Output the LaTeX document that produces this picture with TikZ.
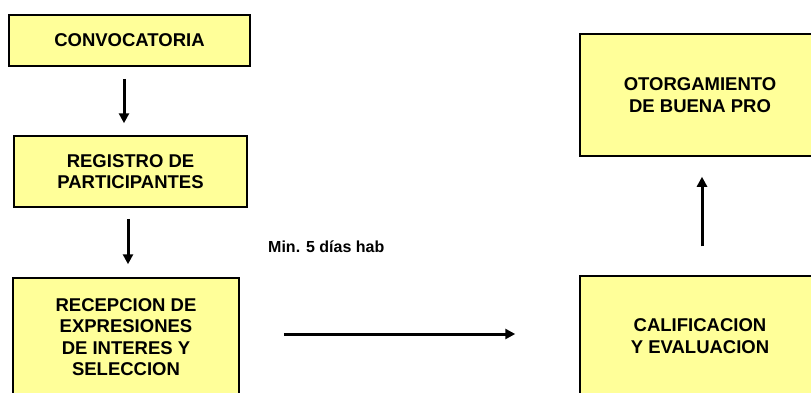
\documentclass[tikz,border=0pt]{standalone}
\usepackage{fontspec}
\setmainfont{Liberation Sans}
\usetikzlibrary{arrows.meta}
\definecolor{boxyellow}{RGB}{255,255,153}
\tikzset{
  stagebox/.style={draw=black, line width=1.5pt, fill=boxyellow, align=center,
    font=\fontsize{18.5}{21.5}\selectfont\bfseries, inner sep=0pt},
  arr/.style={line width=3pt, -{Triangle[length=10pt,width=10pt]}},
  lbl/.style={font=\fontsize{16}{18}\selectfont\bfseries, inner sep=0pt}
}
\begin{document}
\begin{tikzpicture}[x=1pt,y=1pt]
\useasboundingbox (0,0) rectangle (811,-392);
\node[stagebox, minimum width=241pt, minimum height=51pt] (conv) at (129.5,-40.5) {CONVOCATORIA};
\node[stagebox, minimum width=233pt, minimum height=71pt] (reg) at (130.5,-171.5) {REGISTRO DE\\PARTICIPANTES};
\node[stagebox, minimum width=226pt, minimum height=118pt] (rec) at (126,-337) {RECEPCION DE\\EXPRESIONES\\DE INTERES Y\\SELECCION};
\node[stagebox, minimum width=240pt, minimum height=122pt] (oto) at (700,-95) {OTORGAMIENTO\\DE BUENA PRO};
\node[stagebox, minimum width=240pt, minimum height=120pt] (cal) at (700,-336) {CALIFICACION\\Y EVALUACION};
\node[lbl, anchor=base west] (min) at (268,-252) {Min. 5 días hab};
\draw[arr, shorten <=12pt, shorten >=12pt] ([xshift=-5.5pt]conv.south) -- ([xshift=-6.5pt]reg.north);
\draw[arr, shorten <=11pt, shorten >=13pt] ([xshift=-2.5pt]reg.south) -- ([xshift=2pt]rec.north);
\draw[arr, shorten <=44pt, shorten >=64pt] ([yshift=3pt]rec.east) -- ([yshift=3pt]rec.east -| cal.west);
\draw[arr, shorten <=29pt, shorten >=20pt] ([xshift=2pt]cal.north) -- ([xshift=2pt]oto.south);
\end{tikzpicture}
\end{document}
